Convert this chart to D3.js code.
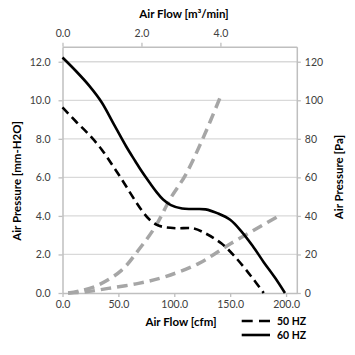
<!DOCTYPE html>
<html>
<head>
<meta charset="utf-8">
<script src="https://cdn.jsdelivr.net/npm/d3@7"></script>
<style>
  html, body { margin: 0; padding: 0; background: #fff; }
  svg { display: block; font-family: Lato, "Open Sans", sans-serif; }
</style>
</head>
<body>
<svg id="chart" width="355" height="355"></svg>
<script>
// ---- data ----
const flow60 = [0, 12, 24, 35, 46, 57, 65, 71, 78, 84, 90, 97, 107, 118, 128, 139, 150, 160, 170, 180, 190, 199];
const pres60 = [12.22, 11.52, 10.75, 9.9, 8.75, 7.6, 6.85, 6.3, 5.72, 5.25, 4.85, 4.56, 4.38, 4.36, 4.34, 4.13, 3.8, 3.2, 2.45, 1.6, 0.8, 0];

const flow50 = [0, 12, 24, 35, 45, 53, 60, 66, 72, 78, 84, 90, 102, 117, 127, 142, 154, 169, 180];
const pres50 = [9.63, 8.9, 8.2, 7.45, 6.6, 5.9, 5.25, 4.7, 4.2, 3.8, 3.55, 3.43, 3.36, 3.35, 3.12, 2.58, 1.9, 0.85, 0];

const flowSysA = [5, 15, 32, 53, 68, 83, 97, 110, 125, 142.5];
const presSysA = [0, 0.1, 0.41, 1.19, 2.23, 3.44, 4.95, 6.12, 7.94, 10.36];

const flowSysB = [5, 20, 41, 68, 92, 122, 151, 195];
const presSysB = [0, 0.05, 0.24, 0.5, 0.85, 1.54, 2.58, 4.05];

const xTicks = [0, 50, 100, 150, 200];
const xTopTicks = [0, 2, 4];
const yTicks = [0, 2, 4, 6, 8, 10, 12];
const yRightTicks = [0, 20, 40, 60, 80, 100, 120];

const legendLabels = ["50 HZ", "60 HZ"];

// ---- layout ----
const svg = d3.select("#chart");
const L = 62.5, R = 296.8, T = 46.7, B = 293;
const xMax = 209.6;
const yMax = 12.78;

const x = d3.scaleLinear().domain([0, xMax]).range([L, R]);
const xTop = d3.scaleLinear().domain([0, xMax / 35.3147]).range([L, R]);
const y = d3.scaleLinear().domain([0, yMax]).range([B, T]);
const yR = d3.scaleLinear().domain([0, yMax * 10]).range([B, T]);

const axisColor = "#bfbfbf";
const gridColor = "#d9d9d9";
const textColor = "#404040";

// gridlines
svg.append("g").selectAll("line").data(yTicks.filter(d => d > 0)).join("line")
  .attr("x1", L).attr("x2", R)
  .attr("y1", d => y(d)).attr("y2", d => y(d))
  .attr("stroke", gridColor).attr("stroke-width", 1.3);

function styleAxis(g) {
  g.select(".domain").attr("stroke", axisColor).attr("stroke-width", 1.5);
  g.selectAll(".tick line").attr("stroke", axisColor).attr("stroke-width", 1.3);
  g.selectAll(".tick text").attr("fill", textColor).attr("font-size", 10.5)
    .attr("font-family", "Lato, 'Open Sans', sans-serif");
}

const fmt1 = d3.format(".1f");
svg.append("g").attr("transform", `translate(0,${B})`)
  .call(d3.axisBottom(x).tickValues(xTicks).tickFormat(fmt1).tickSize(4).tickSizeOuter(0).tickPadding(4))
  .call(styleAxis);
svg.append("g").attr("transform", `translate(0,${T})`)
  .call(d3.axisTop(xTop).tickValues(xTopTicks).tickFormat(fmt1).tickSize(4).tickSizeOuter(0).tickPadding(6))
  .call(styleAxis);
svg.append("g").attr("transform", `translate(${L},0)`)
  .call(d3.axisLeft(y).tickValues(yTicks).tickFormat(fmt1).tickSize(4).tickSizeOuter(0).tickPadding(8))
  .call(styleAxis);
svg.append("g").attr("transform", `translate(${R},0)`)
  .call(d3.axisRight(yR).tickValues(yRightTicks).tickFormat(d3.format("d")).tickSize(4).tickSizeOuter(0).tickPadding(4))
  .call(styleAxis);

// lines
const line = d3.line().x(d => x(d[0])).y(d => y(d[1])).curve(d3.curveCatmullRom.alpha(0.5));
const zip = (a, b) => a.map((v, i) => [v, b[i]]);

svg.append("path").datum(zip(flowSysA, presSysA)).attr("d", line)
  .attr("fill", "none").attr("stroke", "#a6a6a6").attr("stroke-width", 3.5).attr("stroke-dasharray", "10.5,6");
svg.append("path").datum(zip(flowSysB, presSysB)).attr("d", line)
  .attr("fill", "none").attr("stroke", "#a6a6a6").attr("stroke-width", 3.5).attr("stroke-dasharray", "10.5,6");
svg.append("path").datum(zip(flow50, pres50)).attr("d", line)
  .attr("fill", "none").attr("stroke", "#000").attr("stroke-width", 2.6).attr("stroke-dasharray", "8.5,5");
svg.append("path").datum(zip(flow60, pres60)).attr("d", line)
  .attr("fill", "none").attr("stroke", "#000").attr("stroke-width", 2.6);

// axis titles
const titleStyle = s => s.attr("font-weight", "bold").attr("font-size", 11.5).attr("fill", "#000")
  .attr("text-anchor", "middle").attr("dominant-baseline", "central");
svg.append("text").attr("x", 184).attr("y", 13.5).text("Air Flow [m³/min]").call(titleStyle);
svg.append("text").attr("x", 181).attr("y", 321).text("Air Flow [cfm]").call(titleStyle);
svg.append("text").attr("transform", "translate(16,181) rotate(-90)").text("Air Pressure [mm-H2O]").call(titleStyle);
svg.append("text").attr("transform", "translate(338,177) rotate(-90)").text("Air Pressure [Pa]").call(titleStyle);

// legend
const lg = svg.append("g");
const legY = [321, 335];
lg.append("line").attr("x1", 241.7).attr("x2", 270).attr("y1", legY[0]).attr("y2", legY[0])
  .attr("stroke", "#000").attr("stroke-width", 2.6).attr("stroke-dasharray", "11,6.3");
lg.append("line").attr("x1", 241.7).attr("x2", 270).attr("y1", legY[1]).attr("y2", legY[1])
  .attr("stroke", "#000").attr("stroke-width", 2.6);
lg.selectAll("text").data(legendLabels).join("text")
  .attr("x", 277).attr("y", (d, i) => legY[i])
  .attr("dominant-baseline", "central").attr("font-weight", "bold").attr("font-size", 10.5)
  .attr("fill", "#000").text(d => d);
</script>
</body>
</html>
